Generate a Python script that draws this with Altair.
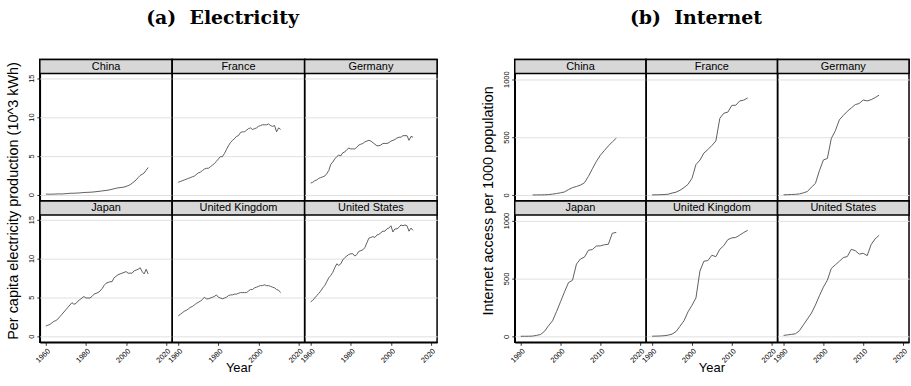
import altair as alt
import pandas as pd

COUNTRIES = ["China", "France", "Germany", "Japan", "United Kingdom", "United States"]
ROW = [0, 0, 0, 1, 1, 1]
COL = [0, 1, 2, 0, 1, 2]

# ---- Electricity: per capita production (10^3 kWh), 1960-2011 ----
ELEC_YEARS = list(range(1960, 2012))
elec_china = [0.09, 0.07, 0.07, 0.07, 0.08, 0.09, 0.11, 0.10, 0.10, 0.12,
              0.14, 0.16, 0.18, 0.19, 0.19, 0.21, 0.22, 0.24, 0.26, 0.29,
              0.30, 0.31, 0.32, 0.34, 0.36, 0.39, 0.42, 0.45, 0.49, 0.52,
              0.55, 0.59, 0.64, 0.70, 0.77, 0.83, 0.88, 0.92, 0.94, 0.99,
              1.07, 1.16, 1.29, 1.48, 1.69, 1.91, 2.20, 2.48, 2.63, 2.80,
              3.15, 3.50]
elec_france = [1.6, 1.7, 1.8, 1.9, 2.0, 2.1, 2.2, 2.3, 2.4, 2.6,
               2.8, 2.9, 3.1, 3.3, 3.4, 3.4, 3.6, 3.8, 4.0, 4.3,
               4.6, 4.9, 4.9, 5.3, 5.8, 6.3, 6.7, 7.0, 7.2, 7.5,
               7.6, 8.0, 8.1, 8.1, 8.3, 8.5, 8.6, 8.4, 8.5, 8.6,
               8.8, 8.9, 9.0, 9.0, 9.0, 9.1, 8.9, 8.8, 8.9, 8.1,
               8.6, 8.4]
elec_germany = [1.5, 1.6, 1.8, 1.9, 2.1, 2.2, 2.3, 2.4, 2.7, 3.1,
                3.9, 4.2, 4.6, 4.9, 5.1, 5.0, 5.4, 5.5, 5.8, 6.0,
                5.9, 5.9, 5.9, 6.1, 6.4, 6.5, 6.6, 6.8, 6.9, 7.0,
                6.9, 6.7, 6.5, 6.3, 6.3, 6.4, 6.6, 6.6, 6.6, 6.7,
                6.9, 7.0, 7.1, 7.3, 7.4, 7.4, 7.6, 7.6, 7.6, 7.0,
                7.5, 7.4]
elec_japan = [1.3, 1.4, 1.5, 1.7, 1.9, 2.0, 2.2, 2.5, 2.8, 3.1,
              3.4, 3.7, 4.0, 4.3, 4.1, 4.2, 4.5, 4.7, 4.9, 5.1,
              4.9, 4.9, 4.9, 5.1, 5.4, 5.5, 5.6, 5.8, 6.1, 6.5,
              6.8, 6.9, 7.0, 7.0, 7.5, 7.7, 7.9, 8.0, 8.1, 8.2,
              8.3, 8.1, 8.1, 8.1, 8.4, 8.5, 8.6, 8.8, 8.3, 8.0,
              8.6, 8.0]
elec_uk = [2.6, 2.8, 3.0, 3.2, 3.3, 3.5, 3.7, 3.8, 4.0, 4.2,
           4.35, 4.5, 4.7, 5.0, 4.8, 4.8, 4.9, 5.0, 5.1, 5.3,
           5.0, 4.9, 4.8, 4.9, 5.0, 5.2, 5.3, 5.3, 5.4, 5.4,
           5.5, 5.6, 5.6, 5.6, 5.6, 5.8, 6.0, 6.0, 6.2, 6.3,
           6.4, 6.5, 6.5, 6.6, 6.5, 6.5, 6.4, 6.3, 6.2, 6.0,
           5.9, 5.6]
elec_us = [4.4, 4.6, 4.9, 5.2, 5.5, 5.8, 6.2, 6.5, 7.0, 7.5,
           7.8, 8.2, 8.8, 9.3, 9.1, 9.3, 9.8, 10.1, 10.3, 10.5,
           10.6, 10.6, 10.3, 10.5, 10.9, 11.0, 11.1, 11.4, 12.0, 12.6,
           12.7, 12.8, 12.7, 13.0, 13.1, 13.3, 13.5, 13.5, 13.8, 13.9,
           14.2, 13.4, 13.8, 13.8, 14.0, 14.3, 14.2, 14.3, 14.2, 13.5,
           13.9, 13.6]

# ---- Internet: access per 1000 population, 1990-2014 ----
NET_YEARS = list(range(1990, 2015))
net_china = [None, None, None, 0, 0.1, 0.5, 1, 3, 7, 12,
             18, 26, 46, 63, 73, 85, 105, 160, 226, 290,
             343, 383, 423, 458, 490]
net_france = [0.5, 1, 2, 3, 6, 16, 24, 40, 63, 91,
              143, 262, 301, 362, 392, 427, 466, 662, 706, 715,
              773, 775, 812, 819, 838]
net_germany = [1, 2, 4, 5, 9, 18, 30, 67, 99, 209,
               302, 315, 489, 554, 648, 687, 722, 751, 780, 790,
               820, 812, 823, 841, 862]
net_japan = [0.2, 0.4, 0.7, 2, 8, 16, 44, 92, 134, 214,
             299, 384, 464, 484, 624, 668, 684, 743, 750, 780,
             781, 791, 795, 890, 898]
net_uk = [0.9, 1.7, 3, 5, 10, 19, 41, 87, 134, 211,
          268, 331, 564, 649, 654, 700, 688, 752, 783, 835,
          850, 854, 874, 897, 916]
net_us = [8, 12, 17, 22, 49, 100, 150, 200, 270, 350,
          425, 485, 587, 617, 648, 680, 689, 751, 740, 710,
          717, 697, 794, 842, 873]

ELEC_X_TICKS = [1960, 1980, 2000, 2020]
ELEC_Y_TICKS = [0, 5, 10, 15]
NET_X_TICKS = [1990, 2000, 2010, 2020]
NET_Y_TICKS = [0, 500, 1000]


def make_df(years, series):
    rows = []
    for name, r, c, vals in zip(COUNTRIES, ROW, COL, series):
        for y, v in zip(years, vals):
            if v is not None:
                rows.append({"country": name, "r": r, "c": c, "year": y, "value": v})
    return pd.DataFrame(rows)


elec_df = make_df(ELEC_YEARS, [elec_china, elec_france, elec_germany,
                               elec_japan, elec_uk, elec_us])
net_df = make_df(NET_YEARS, [net_china, net_france, net_germany,
                             net_japan, net_uk, net_us])

FONT = "Liberation Sans"
HDR = 14
H = 128
NB = "\u00a0"


def figure(df, xdom, xticks, ydom, yticks, ytitle, title, W):
    line = alt.Chart().mark_line(color="#4d4d4d", strokeWidth=0.9).encode(
        x=alt.X("year:Q",
                scale=alt.Scale(domain=xdom, nice=False, zero=False),
                axis=alt.Axis(values=xticks, format="d", labelAngle=315,
                              title=None, grid=False)),
        y=alt.Y("value:Q",
                scale=alt.Scale(domain=ydom, range=[H + HDR, HDR], nice=False, zero=False),
                axis=alt.Axis(values=yticks, format="d", labelAngle=270, labelAlign="center",
                              labelBaseline="bottom", title=None, grid=True)),
    )
    hdr = alt.Chart().transform_aggregate(
        n="count()", groupby=["country"]
    ).mark_rect(fill="#d7d7d7", stroke="black", strokeWidth=1.5).encode(
        x=alt.value(0), x2=alt.value(W), y=alt.value(0), y2=alt.value(HDR)
    )
    txt = alt.Chart().transform_aggregate(
        n="count()", groupby=["country"]
    ).mark_text(font=FONT, fontSize=11, color="black", baseline="middle").encode(
        x=alt.value(W / 2), y=alt.value(HDR / 2 + 0.5), text="country:N"
    )
    return alt.layer(line, hdr, txt, data=df).properties(
        width=W, height=H + HDR
    ).facet(
        row=alt.Row("r:O", header=alt.Header(labels=False, title=ytitle + NB * 5,
                                              titleOrient="left", titleFont=FONT,
                                              titleFontSize=14.5, titleFontWeight="normal",
                                              titleColor="black", titlePadding=-5)),
        column=alt.Column("c:O", header=alt.Header(labels=False, title="Year" + NB * 4,
                                                    titleOrient="bottom", titleFont=FONT,
                                                    titleFontSize=13, titleFontWeight="normal",
                                                    titleColor="black", titlePadding=-12)),
        spacing=0,
    ).properties(
        bounds="flush",
        title=alt.TitleParams(title, font="DejaVu Serif", fontSize=19, fontWeight="bold",
                              anchor="middle", frame="bounds", offset=30, color="black")
    )


left = figure(elec_df, [1957, 2023], ELEC_X_TICKS, [-0.8, 15.6], ELEC_Y_TICKS,
              "Per capita electricity production (10^3 kWh)",
              NB + NB + "(a)" + NB + NB + "Electricity", 133)
right = figure(net_df, [1988.5, 2021.5], NET_X_TICKS, [-52, 1049], NET_Y_TICKS,
               "Internet access per 1000 population",
               "(b)" + NB + NB + "Internet" + NB + NB, 132)

chart = alt.hconcat(left, right, spacing=42).properties(
    padding={"left": 6, "top": 8, "right": 0, "bottom": 0}
).configure_view(
    stroke="black", strokeWidth=1.5
).configure_facet(
    spacing=0
).configure_axis(
    labelFont=FONT, labelFontSize=7.5, labelColor="black",
    domainColor="black", domainWidth=1.5,
    tickColor="black", tickSize=3, tickWidth=0.8, labelPadding=1.5,
    gridColor="#e0e0e0", gridWidth=1,
)

chart.save("out.html", embed_options={"renderer": "svg", "actions": False})
